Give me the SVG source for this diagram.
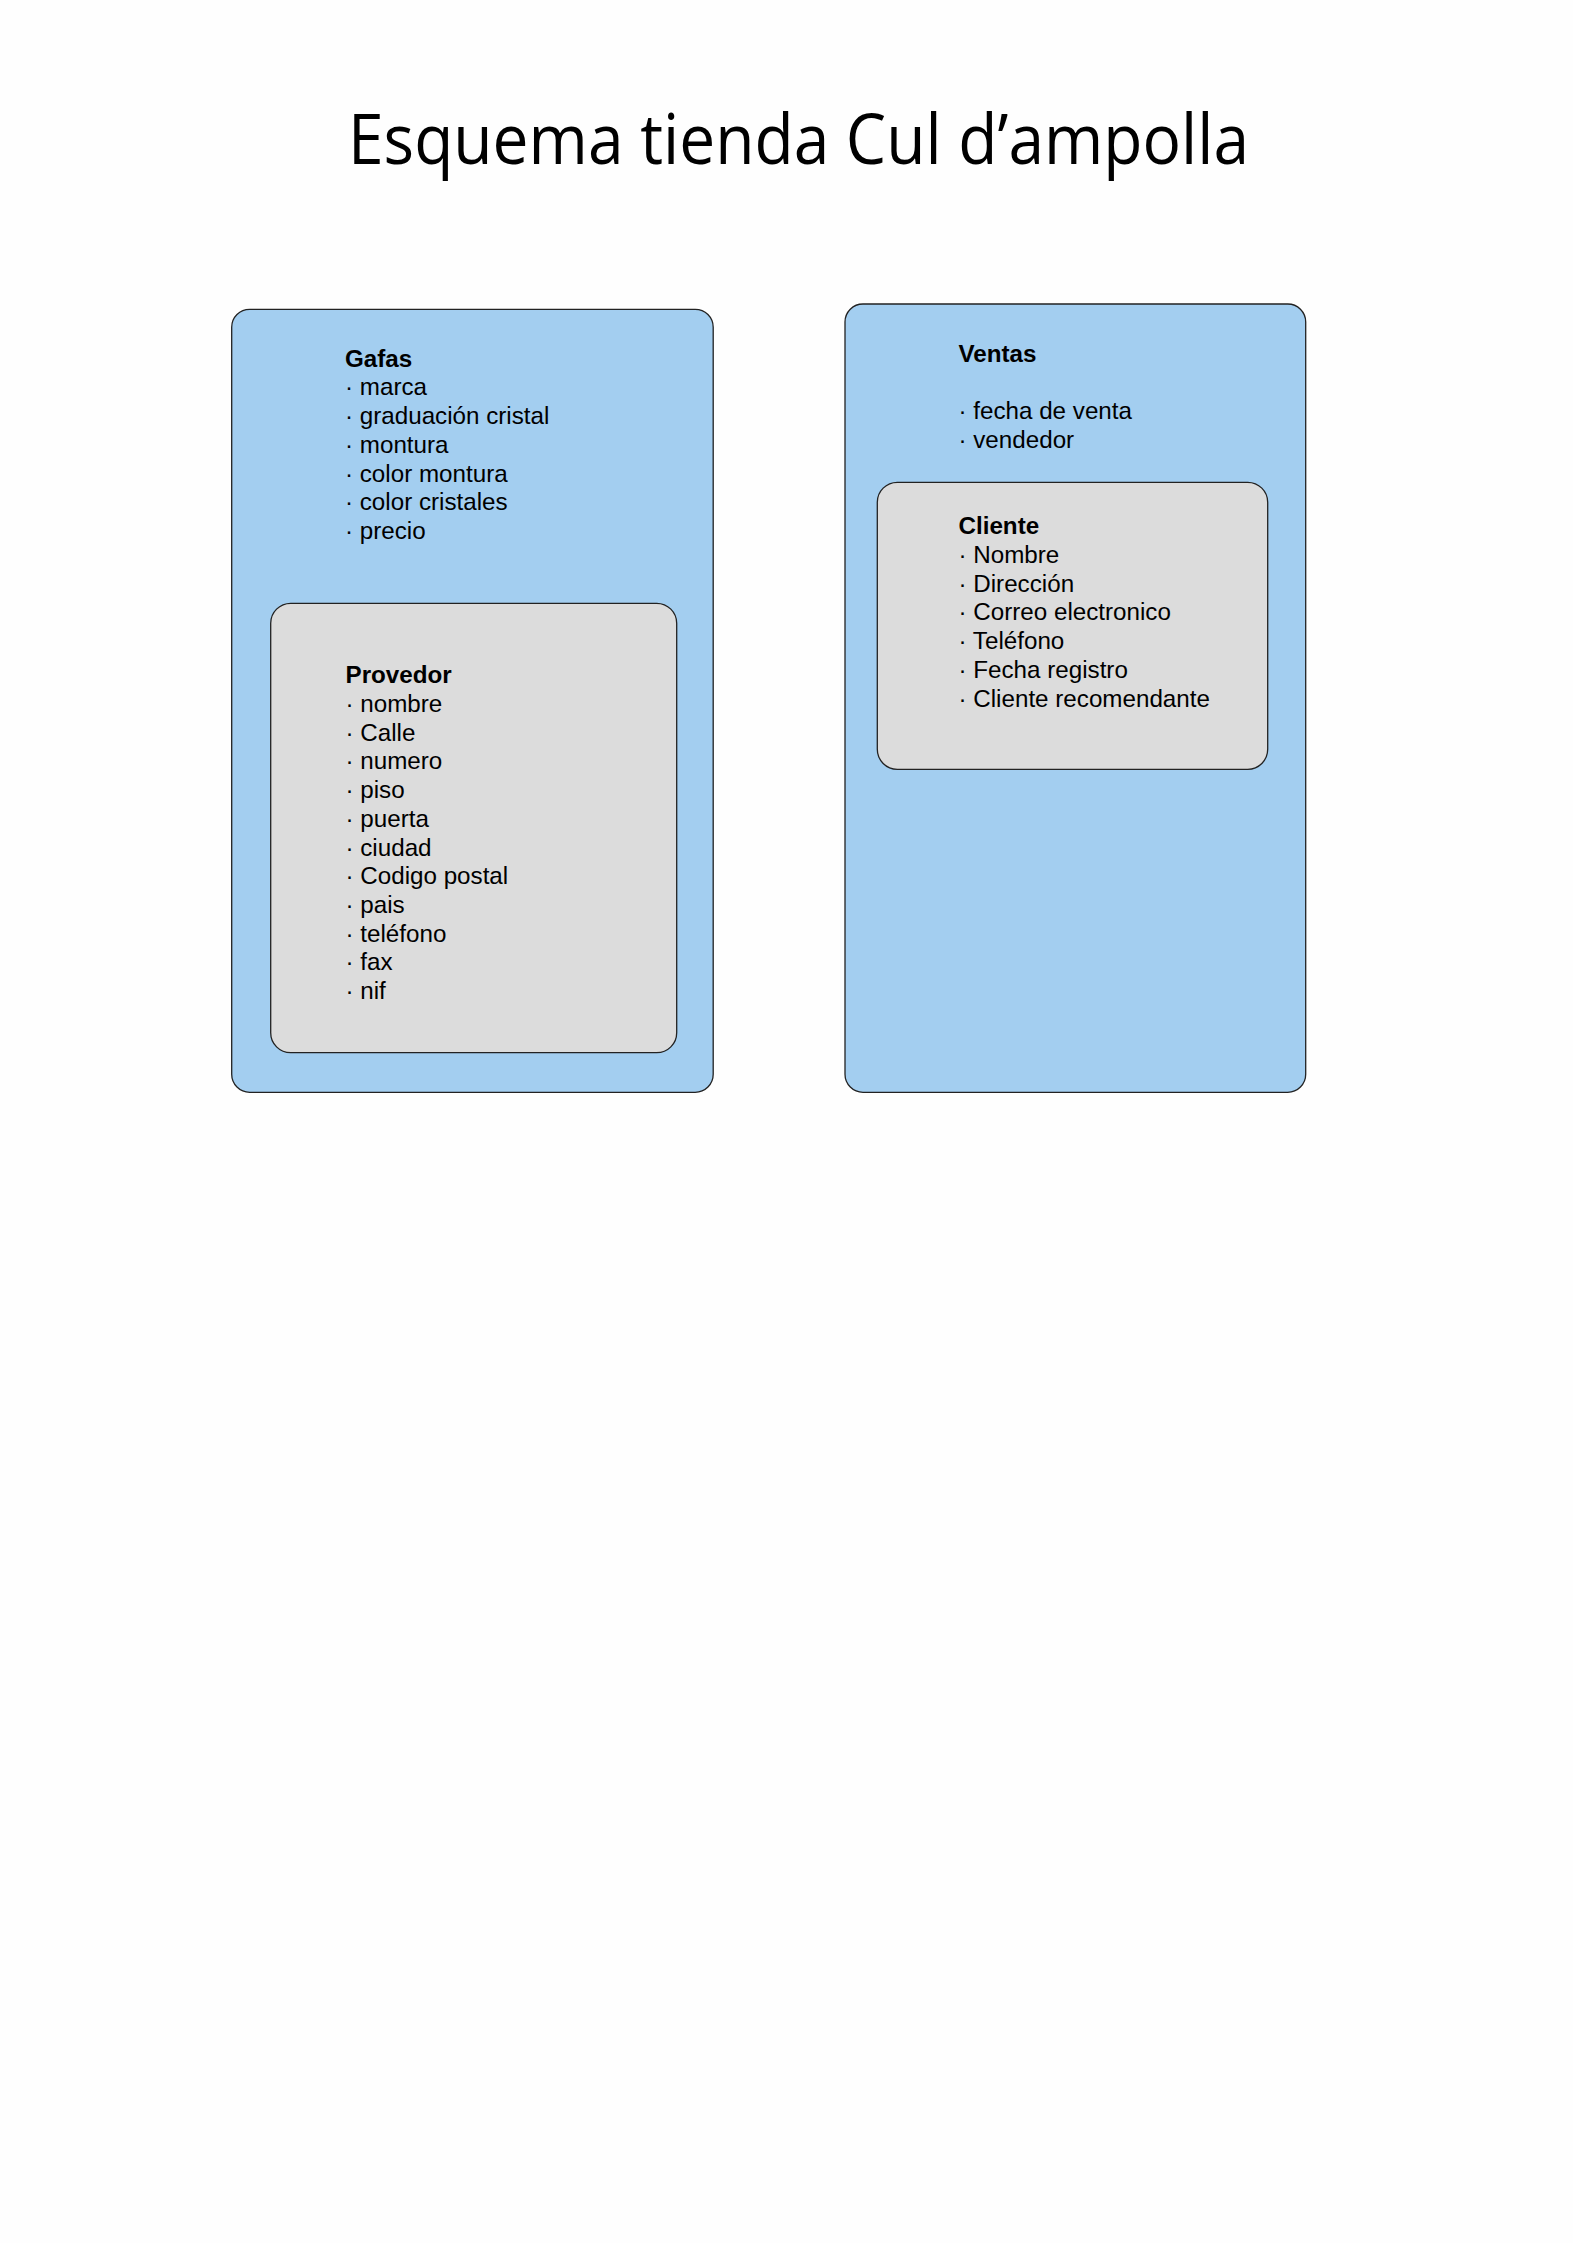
<svg xmlns="http://www.w3.org/2000/svg" width="1573" height="2243" viewBox="0 0 1573 2243">
<style>
.outer{fill:#a3cef0;stroke:#222;stroke-width:1.3}
.inner{fill:#dcdcdc;stroke:#222;stroke-width:1.3}
.t{font-family:"Liberation Sans",Arial,sans-serif;font-size:24.2px;fill:#000}
.b{font-weight:bold}
.title{font-family:"Open Sans","Noto Sans",sans-serif;font-size:70px;fill:#000}
</style>
<rect width="1573" height="2243" fill="#fefefe"/>
<text class="title" x="348" y="164" textLength="901" lengthAdjust="spacingAndGlyphs">Esquema tienda Cul d’ampolla</text>
<g id="gafas">
<rect class="outer" x="231.7" y="309.3" width="481.5" height="783" rx="18"/>
<text class="t"><tspan class="b" x="345" y="366.7">Gafas</tspan><tspan x="345" y="395.4">· marca</tspan><tspan x="345" y="424.1">· graduación cristal</tspan><tspan x="345" y="452.8">· montura</tspan><tspan x="345" y="481.5">· color montura</tspan><tspan x="345" y="510.2">· color cristales</tspan><tspan x="345" y="538.9">· precio</tspan></text>
</g>
<g id="provedor">
<rect class="inner" x="270.7" y="603.3" width="406" height="449.4" rx="20"/>
<text class="t"><tspan class="b" x="345.5" y="683.3">Provedor</tspan><tspan x="345.5" y="712">· nombre</tspan><tspan x="345.5" y="740.7">· Calle</tspan><tspan x="345.5" y="769.4">· numero</tspan><tspan x="345.5" y="798.1">· piso</tspan><tspan x="345.5" y="826.8">· puerta</tspan><tspan x="345.5" y="855.5">· ciudad</tspan><tspan x="345.5" y="884.2">· Codigo postal</tspan><tspan x="345.5" y="912.9">· pais</tspan><tspan x="345.5" y="941.6">· teléfono</tspan><tspan x="345.5" y="970.3">· fax</tspan><tspan x="345.5" y="999">· nif</tspan></text>
</g>
<g id="ventas">
<rect class="outer" x="845" y="304" width="460.7" height="788.3" rx="18"/>
<text class="t"><tspan class="b" x="958.5" y="361.7">Ventas</tspan><tspan x="958.5" y="419.1">· fecha de venta</tspan><tspan x="958.5" y="447.8">· vendedor</tspan></text>
</g>
<g id="cliente">
<rect class="inner" x="877.3" y="482.3" width="390.4" height="287" rx="20"/>
<text class="t"><tspan class="b" x="958.5" y="534.3">Cliente</tspan><tspan x="958.5" y="563">· Nombre</tspan><tspan x="958.5" y="591.7">· Dirección</tspan><tspan x="958.5" y="620.4">· Correo electronico</tspan><tspan x="958.5" y="649.1">· Teléfono</tspan><tspan x="958.5" y="677.8">· Fecha registro</tspan><tspan x="958.5" y="706.5">· Cliente recomendante</tspan></text>
</g>
<g id="connectors"/>
</svg>
